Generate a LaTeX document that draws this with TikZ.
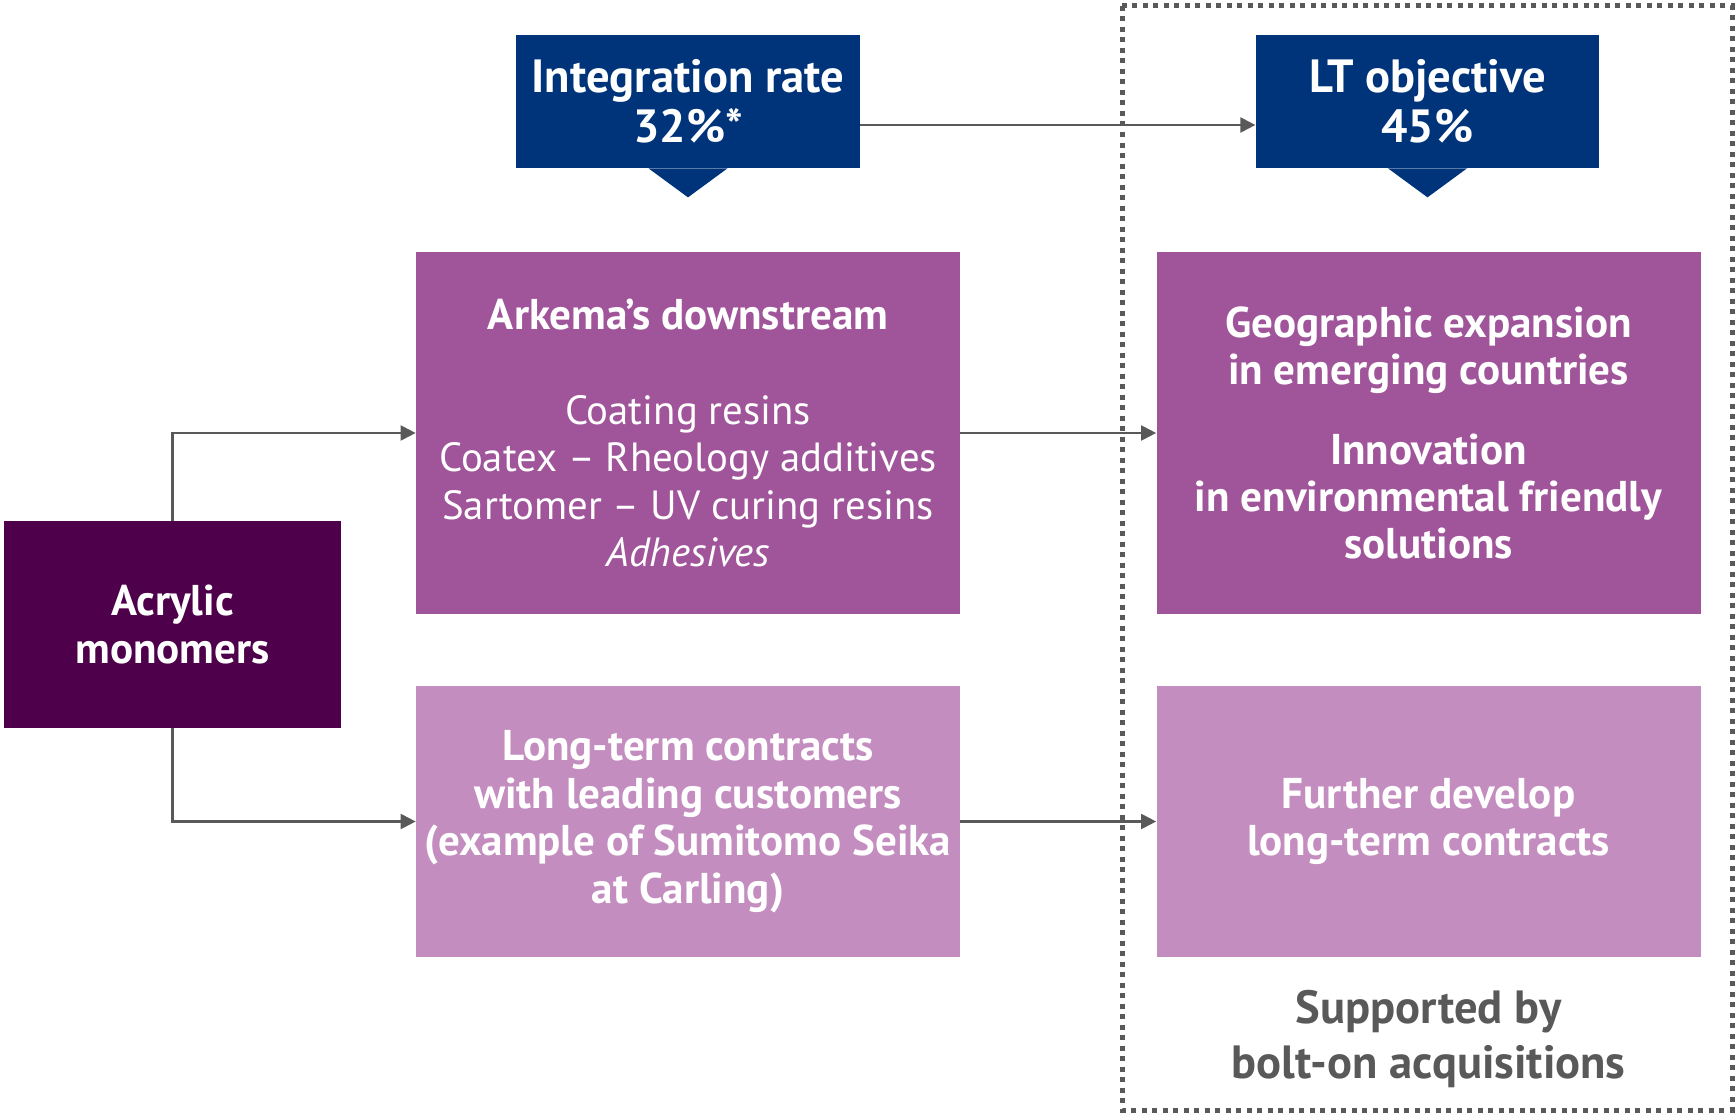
\documentclass[tikz,border=0pt]{standalone}
\usepackage{fontspec}
\setmainfont{PT Sans}
\usepackage{tikz}
\usetikzlibrary{arrows.meta,positioning}
\definecolor{navy}{HTML}{00347A}
\definecolor{midpurple}{HTML}{A0559A}
\definecolor{lightpurple}{HTML}{C48DBF}
\definecolor{darkpurple}{HTML}{4E004B}
\definecolor{linegray}{HTML}{595959}
\tikzstyle{box} = [rectangle, inner sep=0pt, text=white, align=center, font=\fontsize{23.2}{27}\selectfont]
\tikzstyle{boldbox} = [box, font=\fontsize{24.5}{27}\selectfont\bfseries]
\tikzstyle{tag} = [box, fill=navy, minimum width=6.87cm, minimum height=2.66cm, font=\fontsize{26.5}{28.5}\selectfont\bfseries]
\tikzstyle{wide} = [minimum width=10.88cm]
\tikzstyle{link} = [draw=linegray, line width=1.2pt, -{Triangle[length=0.3cm,width=0.3cm]}]

\begin{document}
\begin{tikzpicture}[node distance=2cm]
\useasboundingbox (0,0) rectangle (34.7,-22.32);

% boxes
\node [box, wide, fill=midpurple, minimum height=7.24cm] at (13.76,-8.66) (downstream) {{\fontsize{24.5}{27}\selectfont\bfseries Arkema’s downstream}\\[0.95cm]Coating resins\\Coatex -- Rheology additives\\Sartomer -- UV curing resins\\\textit{Adhesives}};
\node [boldbox, wide, fill=midpurple, minimum height=7.24cm, right of=downstream, node distance=14.81cm] (geographic) {Geographic expansion\\in emerging countries\\[0.64cm]Innovation\\in environmental friendly\\solutions};
\node [boldbox, wide, fill=lightpurple, minimum height=5.42cm, below of=downstream, node distance=7.77cm] (contracts) {Long-term contracts\\with leading customers\\(example of Sumitomo Seika\\at Carling)};
\node [boldbox, wide, fill=lightpurple, minimum height=5.42cm, right of=contracts, node distance=14.81cm] (further) {Further develop\\long-term contracts};
\node [boldbox, fill=darkpurple, minimum width=6.74cm, minimum height=4.14cm, left of=downstream, node distance=10.31cm, yshift=-3.83cm] (acrylic) {Acrylic\\monomers};

% objectives
\node [tag, above of=downstream, node distance=6.63cm] (integration) {Integration rate\\32\%*};
\node [tag, right of=integration, node distance=14.79cm] (objective) {LT objective\\45\%};
\fill [navy] ([xshift=-0.79cm]integration.south) -- ++(0.79,-0.58) -- ++(0.79,0.58) -- cycle;
\fill [navy] ([xshift=-0.79cm]objective.south) -- ++(0.79,-0.58) -- ++(0.79,0.58) -- cycle;

\node [box, text=linegray, below of=further, node distance=4.35cm, font=\fontsize{26.5}{31}\selectfont\bfseries] (support) {Supported by\\bolt-on acquisitions};

% frame
\draw [linegray, line width=0.1cm, dash pattern=on 0.1cm off 0.11cm] (22.44,-0.12) rectangle (34.64,-22.2);

% connectors
\draw [link] ([yshift=-0.47cm]integration.east) -- ([yshift=-0.47cm]objective.west);
\draw [link] (acrylic.north) |- (downstream.west);
\draw [link] (acrylic.south) |- (contracts.west);
\draw [link] (downstream) -- (geographic);
\draw [link] (contracts) -- (further);

\end{tikzpicture}
\end{document}
